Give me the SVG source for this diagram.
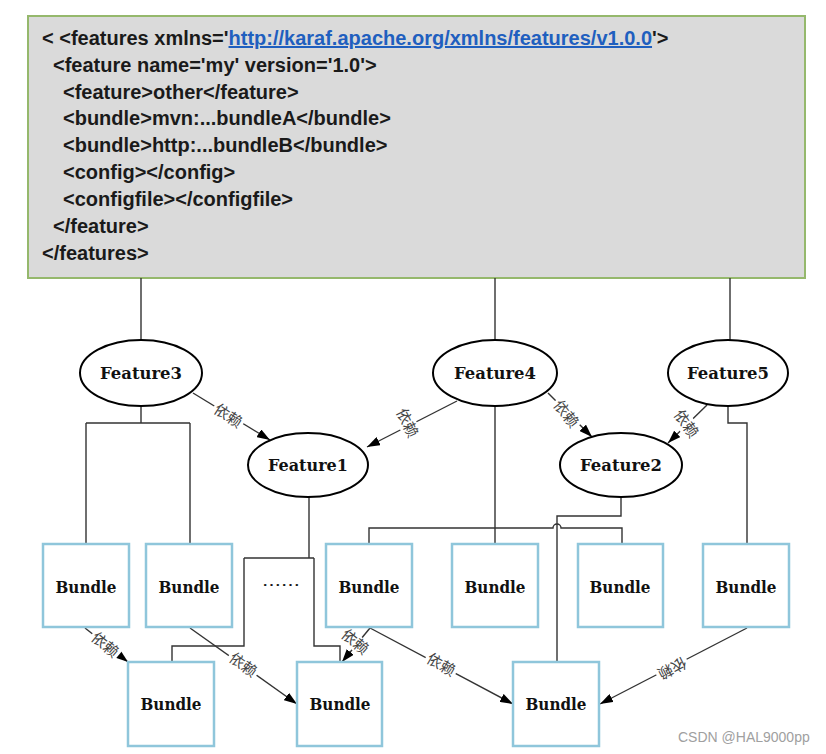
<svg xmlns="http://www.w3.org/2000/svg" width="826" height="754" viewBox="0 0 826 754">
<defs>
<marker id="arr" markerUnits="userSpaceOnUse" markerWidth="13" markerHeight="9" viewBox="0 0 13 9" refX="13" refY="4.5" orient="auto">
<path d="M0,0 L13,4.5 L0,9 z" fill="#000"/>
</marker>
</defs>
<style>
.code{font-family:"Liberation Sans",Arial,sans-serif;font-weight:bold;font-size:20px;fill:#1a1a1a}
.link{fill:#1f5fbf;text-decoration:underline}
.ell{fill:#fff;stroke:#000;stroke-width:2}
.box{fill:#fff;stroke:#8fc6db;stroke-width:2.5}
.nt{font-family:"DejaVu Serif","Liberation Serif",serif;font-weight:bold;font-size:17px;fill:#111;text-anchor:middle}
.ln{fill:none;stroke:#333;stroke-width:1.4}
.ar{fill:none;stroke:#333;stroke-width:1.4;marker-end:url(#arr)}
.lb{font-family:"Noto Sans CJK SC","Noto Sans",sans-serif;font-size:15px;fill:#444;text-anchor:middle}
.lbg{fill:#fff}
.wm{font-family:"Liberation Sans",Arial,sans-serif;font-size:14px;fill:#a0a0a0}
</style>

<g id="xmlbox">
<rect x="28" y="16" width="777" height="262" fill="#dadada" stroke="#95b86c" stroke-width="2"/>
<text class="code" x="42" y="45">&lt; &lt;features xmlns='<tspan class="link">http://karaf.apache.org/xmlns/features/v1.0.0</tspan>'&gt;</text>
<text class="code" x="53" y="72">&lt;feature name='my' version='1.0'&gt;</text>
<text class="code" x="63" y="99">&lt;feature&gt;other&lt;/feature&gt;</text>
<text class="code" x="63" y="125">&lt;bundle&gt;mvn:...bundleA&lt;/bundle&gt;</text>
<text class="code" x="63" y="152">&lt;bundle&gt;http:...bundleB&lt;/bundle&gt;</text>
<text class="code" x="63" y="179">&lt;config&gt;&lt;/config&gt;</text>
<text class="code" x="63" y="206">&lt;configfile&gt;&lt;/configfile&gt;</text>
<text class="code" x="53" y="233">&lt;/feature&gt;</text>
<text class="code" x="42" y="260">&lt;/features&gt;</text>
</g>

<g id="connectors">
<path class="ln" d="M141,278 V340 M495,278 V340 M730,278 V340"/>
<path class="ln" d="M141,406 V423 M86,423 H190 M86,423 V544 M190,423 V544"/>
<path class="ln" d="M495,406 V544"/>
<path class="ln" d="M369,544 V528 H553 a4,4 0 0 1 8,0 H622 V544"/>
<path class="ln" d="M621,498 V516 H557 V662"/>
<path class="ln" d="M728,406 V423 H747 V544"/>
<path class="ln" d="M309,497 V558 M244,558 H314 M244,558 V646 H172 V662 M314,558 V646 H340 V662"/>
<path class="ar" d="M193,393 L270,440"/>
<path class="ar" d="M457,401 L367,447"/>
<path class="ar" d="M548,393 L592,437"/>
<path class="ar" d="M707,405 L668,443"/>
<path class="ar" d="M85,628 L128,662"/>
<path class="ar" d="M190,628 L297,704"/>
<path class="ar" d="M370,628 L342,662"/>
<path class="ar" d="M370,628 L513,704"/>
<path class="ar" d="M747,628 L600,704"/>
<g transform="translate(228,416) rotate(33)"><rect class="lbg" x="-17" y="-9" width="34" height="18"/><text class="lb" x="0" y="5">依赖</text></g>
<g transform="translate(407,423) rotate(64)"><rect class="lbg" x="-17" y="-9" width="34" height="18"/><text class="lb" x="0" y="5">依赖</text></g>
<g transform="translate(566,414) rotate(52)"><rect class="lbg" x="-17" y="-9" width="34" height="18"/><text class="lb" x="0" y="5">依赖</text></g>
<g transform="translate(686,424) rotate(55)"><rect class="lbg" x="-17" y="-9" width="34" height="18"/><text class="lb" x="0" y="5">依赖</text></g>
<g transform="translate(105,645) rotate(40)"><rect class="lbg" x="-17" y="-9" width="34" height="18"/><text class="lb" x="0" y="5">依赖</text></g>
<g transform="translate(243,665) rotate(36)"><rect class="lbg" x="-17" y="-9" width="34" height="18"/><text class="lb" x="0" y="5">依赖</text></g>
<g transform="translate(355,642) rotate(40)"><rect class="lbg" x="-15" y="-8" width="30" height="16"/><text class="lb" x="0" y="5">依赖</text></g>
<g transform="translate(441,665) rotate(30)"><rect class="lbg" x="-17" y="-9" width="34" height="18"/><text class="lb" x="0" y="5">依赖</text></g>
<g transform="translate(672,668) rotate(153)"><rect class="lbg" x="-17" y="-9" width="34" height="18"/><text class="lb" x="0" y="5">依赖</text></g>
</g>

<g id="feature3"><ellipse class="ell" cx="141" cy="373" rx="61" ry="33"/><text class="nt" x="141" y="379" textLength="82" lengthAdjust="spacingAndGlyphs">Feature3</text></g>
<g id="feature4"><ellipse class="ell" cx="495" cy="373" rx="62" ry="33"/><text class="nt" x="495" y="379" textLength="82" lengthAdjust="spacingAndGlyphs">Feature4</text></g>
<g id="feature5"><ellipse class="ell" cx="728" cy="373" rx="60" ry="33"/><text class="nt" x="728" y="379" textLength="82" lengthAdjust="spacingAndGlyphs">Feature5</text></g>
<g id="feature1"><ellipse class="ell" cx="308" cy="465" rx="60" ry="32"/><text class="nt" x="308" y="471" textLength="80" lengthAdjust="spacingAndGlyphs">Feature1</text></g>
<g id="feature2"><ellipse class="ell" cx="621" cy="465" rx="61" ry="32"/><text class="nt" x="621" y="471" textLength="82" lengthAdjust="spacingAndGlyphs">Feature2</text></g>

<g id="bundle1"><rect class="box" x="43" y="544" width="86" height="83"/><text class="nt" x="86" y="593" textLength="61" lengthAdjust="spacingAndGlyphs">Bundle</text></g>
<g id="bundle2"><rect class="box" x="146" y="544" width="86" height="83"/><text class="nt" x="189" y="593" textLength="61" lengthAdjust="spacingAndGlyphs">Bundle</text></g>
<g id="dots"><text class="nt" x="281" y="586" style="font-weight:normal;font-size:15px" textLength="38" lengthAdjust="spacingAndGlyphs">……</text></g>
<g id="bundle3"><rect class="box" x="326" y="544" width="86" height="83"/><text class="nt" x="369" y="593" textLength="61" lengthAdjust="spacingAndGlyphs">Bundle</text></g>
<g id="bundle4"><rect class="box" x="452" y="544" width="86" height="83"/><text class="nt" x="495" y="593" textLength="61" lengthAdjust="spacingAndGlyphs">Bundle</text></g>
<g id="bundle5"><rect class="box" x="578" y="544" width="85" height="83"/><text class="nt" x="620" y="593" textLength="61" lengthAdjust="spacingAndGlyphs">Bundle</text></g>
<g id="bundle6"><rect class="box" x="703" y="544" width="86" height="83"/><text class="nt" x="746" y="593" textLength="61" lengthAdjust="spacingAndGlyphs">Bundle</text></g>
<g id="bundle7"><rect class="box" x="128" y="662" width="86" height="84"/><text class="nt" x="171" y="710" textLength="61" lengthAdjust="spacingAndGlyphs">Bundle</text></g>
<g id="bundle8"><rect class="box" x="297" y="662" width="85" height="84"/><text class="nt" x="340" y="710" textLength="61" lengthAdjust="spacingAndGlyphs">Bundle</text></g>
<g id="bundle9"><rect class="box" x="513" y="662" width="86" height="84"/><text class="nt" x="556" y="710" textLength="61" lengthAdjust="spacingAndGlyphs">Bundle</text></g>

<text class="wm" x="678" y="742">CSDN @HAL9000pp</text>
</svg>
